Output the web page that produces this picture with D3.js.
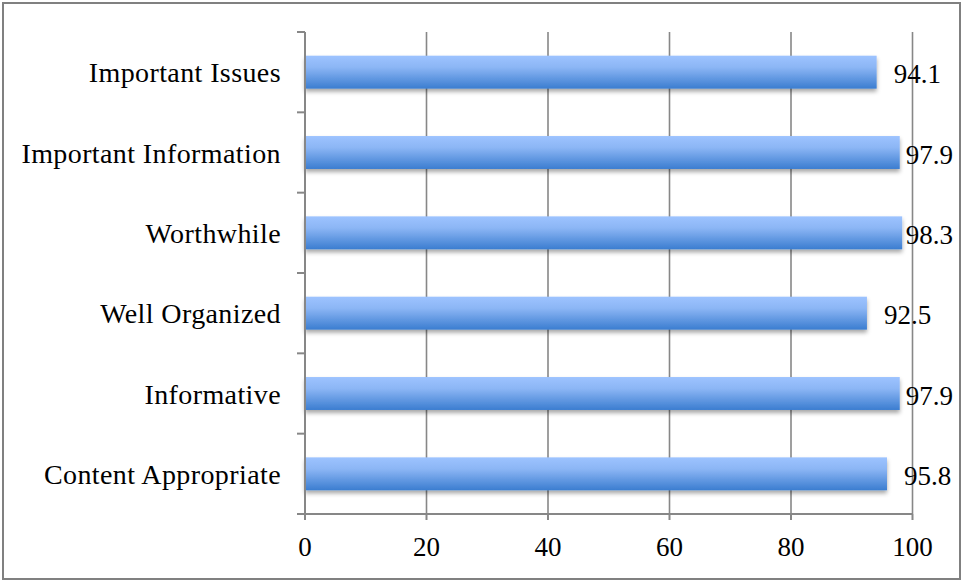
<!DOCTYPE html>
<html>
<head>
<meta charset="utf-8">
<script src="https://cdn.jsdelivr.net/npm/d3@7"></script>
<style>
  html, body { margin: 0; padding: 0; background: #fff; }
  svg { display: block; }
  text { font-family: "Liberation Serif", "Times New Roman", serif; fill: #000; }
</style>
</head>
<body>
<svg id="chart" width="963" height="582"></svg>
<script>
const categories = ["Important Issues", "Important Information", "Worthwhile", "Well Organized", "Informative", "Content Appropriate"];
const values = [94.1, 97.9, 98.3, 92.5, 97.9, 95.8];
const xTicks = [0, 20, 40, 60, 80, 100];

const svg = d3.select("#chart");
const margin = {left: 305, right: 51, top: 32, bottom: 68};

const defs = svg.append("defs");
const grad = defs.append("linearGradient").attr("id", "barGrad")
  .attr("x1", 0).attr("y1", 0).attr("x2", 0).attr("y2", 1);
grad.append("stop").attr("offset", "0%").attr("stop-color", "#9dc3ff");
grad.append("stop").attr("offset", "35%").attr("stop-color", "#8cb6f5");
grad.append("stop").attr("offset", "100%").attr("stop-color", "#3b7dd0");
const filt = defs.append("filter").attr("id", "shadow")
  .attr("x", "-5%").attr("y", "-20%").attr("width", "110%").attr("height", "160%");
filt.append("feDropShadow").attr("dx", 0).attr("dy", 3).attr("stdDeviation", 2)
  .attr("flood-color", "#000").attr("flood-opacity", 0.35);

// outer border
svg.append("rect").attr("x", 3).attr("y", 3).attr("width", 957).attr("height", 576)
  .attr("fill", "#fff").attr("stroke", "#808080").attr("stroke-width", 2);

const x = d3.scaleLinear().domain([0, 100]).range([margin.left, 912.5]);
const y = d3.scaleBand().domain(categories).range([margin.top, 514]).paddingInner(0.59).paddingOuter(0.295);
const yBand = d3.scaleBand().domain(categories).range([margin.top, 514]);

// gridlines
svg.append("g").selectAll("line").data(xTicks.slice(1)).join("line")
  .attr("x1", d => x(d)).attr("x2", d => x(d))
  .attr("y1", margin.top).attr("y2", 514)
  .attr("stroke", "#878787").attr("stroke-width", 1.6);

// bars
svg.append("g").selectAll("rect").data(values).join("rect")
  .attr("x", x(0)).attr("y", (d, i) => y(categories[i]))
  .attr("width", d => x(d) - x(0)).attr("height", y.bandwidth())
  .attr("fill", "url(#barGrad)").attr("filter", "url(#shadow)");

// y axis line + ticks at band boundaries
const yAxisG = svg.append("g");
yAxisG.append("line").attr("x1", x(0)).attr("x2", x(0)).attr("y1", margin.top).attr("y2", 520)
  .attr("stroke", "#878787").attr("stroke-width", 2);
const bounds = categories.map(c => yBand(c)).concat([514]);
yAxisG.selectAll("line.tk").data(bounds).join("line").attr("class", "tk")
  .attr("x1", 297).attr("x2", x(0)).attr("y1", d => d).attr("y2", d => d)
  .attr("stroke", "#878787").attr("stroke-width", 2);

// x axis line + ticks
const xAxisG = svg.append("g");
xAxisG.append("line").attr("x1", 297).attr("x2", x(100)).attr("y1", 514).attr("y2", 514)
  .attr("stroke", "#878787").attr("stroke-width", 2);
xAxisG.selectAll("line.tk").data(xTicks).join("line").attr("class", "tk")
  .attr("x1", d => x(d)).attr("x2", d => x(d)).attr("y1", 514).attr("y2", 520)
  .attr("stroke", "#878787").attr("stroke-width", 2);
xAxisG.selectAll("text").data(xTicks).join("text")
  .attr("x", d => x(d)).attr("y", 556).attr("text-anchor", "middle")
  .attr("font-size", 27).text(d => d);

// category labels
svg.append("g").selectAll("text").data(categories).join("text")
  .attr("x", 281).attr("y", d => yBand(d) + yBand.bandwidth() / 2 + 10)
  .attr("text-anchor", "end").attr("font-size", 28).attr("letter-spacing", 0.4).text(d => d);

// value labels (kept inside the chart area, like the original)
const rightLimit = 953;
svg.append("g").selectAll("text").data(values).join("text")
  .attr("y", (d, i) => yBand(categories[i]) + yBand.bandwidth() / 2 + 11)
  .attr("font-size", 27).text(d => d.toFixed(1))
  .attr("x", function(d) {
    const w = this.getComputedTextLength();
    return Math.min(x(d) + 17, rightLimit - w);
  });
</script>
</body>
</html>
